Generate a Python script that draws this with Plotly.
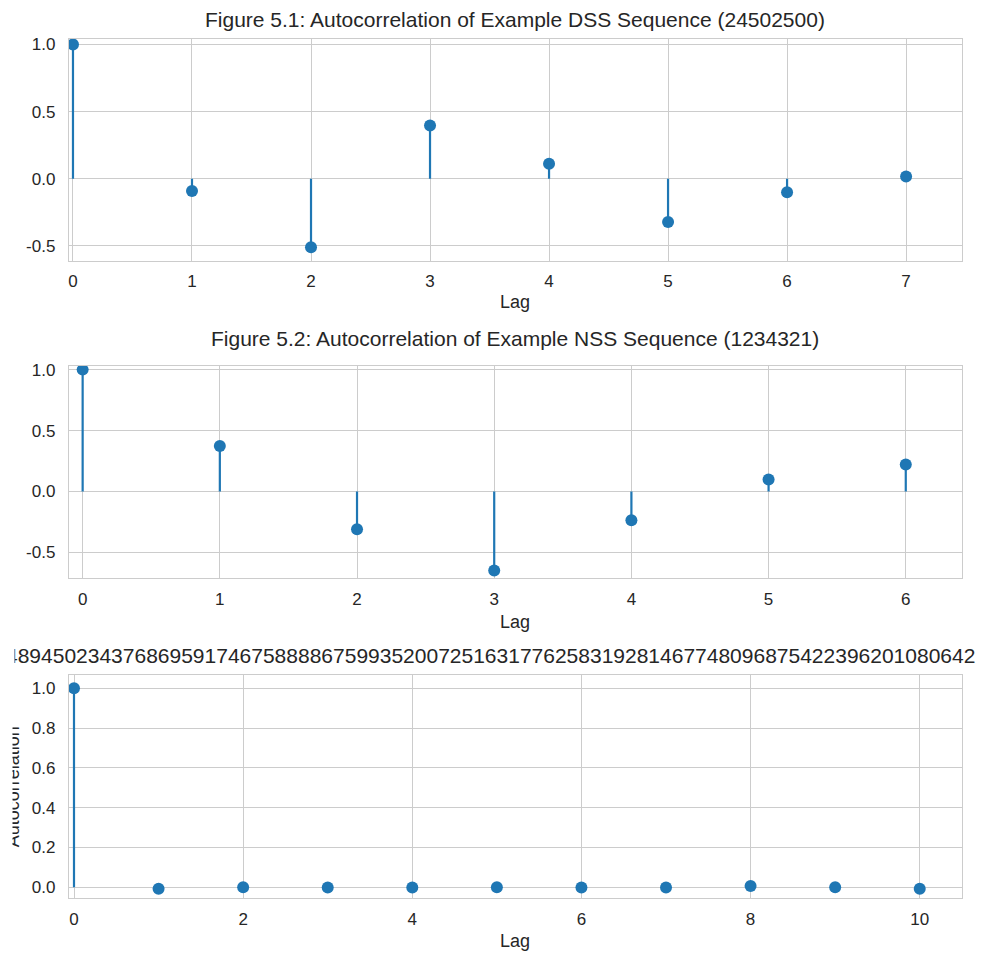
import plotly.graph_objects as go

W, H = 981, 953

# ---- data ----
lags1 = [0, 1, 2, 3, 4, 5, 6, 7]
acf1 = [1.0, -0.091, -0.511, 0.397, 0.112, -0.323, -0.101, 0.017]
title1 = "Figure 5.1: Autocorrelation of Example DSS Sequence (24502500)"

lags2 = [0, 1, 2, 3, 4, 5, 6]
acf2 = [1.0, 0.374, -0.310, -0.648, -0.236, 0.099, 0.222]
title2 = "Figure 5.2: Autocorrelation of Example NSS Sequence (1234321)"

lags3 = [0, 1, 2, 3, 4, 5, 6, 7, 8, 9, 10]
acf3 = [1.0, -0.008, 0.0, -0.002, -0.002, 0.0, -0.002, -0.002, 0.006, 0.0, -0.008]
title3 = "48945023437686959174675888867599352007251631776258319281467748096875422396201080642"

y_ticks1 = [-0.5, 0.0, 0.5, 1.0]
y_ticks2 = [-0.5, 0.0, 0.5, 1.0]
y_ticks3 = [0.0, 0.2, 0.4, 0.6, 0.8, 1.0]
x_ticks3 = [0, 2, 4, 6, 8, 10]

BLUE = "#1f77b4"
GRID = "#cccccc"
TXT = "#262626"
FONT = "Liberation Sans, Arial, sans-serif"
TICK_SIZE = 17
LABEL_SIZE = 18
TITLE_SIZE = 21

L, R = 68, 962

# panel pixel boxes (top, bottom), title centre (tx, ty), x-label centre
panels = [
    dict(lags=lags1, acf=acf1, title=title1, yt=y_ticks1, xt=lags1,
         yr=[-0.611, 1.042], xr=[-0.034, 7.47], top=38, bot=260,
         tx=(L + R) / 2, ty=19, ly=301),
    dict(lags=lags2, acf=acf2, title=title2, yt=y_ticks2, xt=lags2,
         yr=[-0.713, 1.033], xr=[-0.10, 6.41], top=365, bot=578,
         tx=(L + R) / 2, ty=338, ly=622),
    dict(lags=lags3, acf=acf3, title=title3, yt=y_ticks3, xt=x_ticks3,
         yr=[-0.055, 1.065], xr=[-0.06, 10.5], top=675, bot=898,
         tx=489.5, ty=655, ly=941),
]


def px(xp):
    return xp / W


def py(yp):
    # small vertical correction measured from earlier renders
    yp = yp - 4.0 * (941 - yp) / 922
    return 1 - yp / H


fig = go.Figure()
layout = dict(
    width=W, height=H,
    margin=dict(l=0, r=0, t=0, b=0),
    paper_bgcolor="white", plot_bgcolor="white",
    showlegend=False,
    font=dict(family=FONT, color=TXT, size=TICK_SIZE),
    annotations=[],
)

for i, p in enumerate(panels, start=1):
    xa = "x" if i == 1 else f"x{i}"
    ya = "y" if i == 1 else f"y{i}"
    # stems
    sx, sy = [], []
    for lag, v in zip(p["lags"], p["acf"]):
        sx += [lag, lag, None]
        sy += [0, v, None]
    fig.add_trace(go.Scatter(x=sx, y=sy, mode="lines",
                             line=dict(color=BLUE, width=2.2),
                             xaxis=xa, yaxis=ya, hoverinfo="skip"))
    fig.add_trace(go.Scatter(x=p["lags"], y=p["acf"], mode="markers",
                             marker=dict(color=BLUE, size=12),
                             xaxis=xa, yaxis=ya))
    xkey = "xaxis" if i == 1 else f"xaxis{i}"
    ykey = "yaxis" if i == 1 else f"yaxis{i}"
    layout[xkey] = dict(
        domain=[px(L), px(R)], anchor=ya, range=p["xr"],
        tickvals=p["xt"], ticktext=[str(t) for t in p["xt"]],
        showgrid=True, gridcolor=GRID, gridwidth=1, zeroline=False,
        showline=True, linecolor=GRID, linewidth=1.25, mirror=True,
        ticks="", ticklabelstandoff=5,
        tickfont=dict(size=TICK_SIZE, color=TXT),
    )
    layout[ykey] = dict(
        domain=[py(p["bot"]), py(p["top"])], anchor=xa, range=p["yr"],
        tickvals=p["yt"], ticktext=[f"{t:.1f}" for t in p["yt"]],
        showgrid=True, gridcolor=GRID, gridwidth=1, zeroline=False,
        showline=True, linecolor=GRID, linewidth=1.25, mirror=True,
        ticks="", ticklabelstandoff=9,
        tickfont=dict(size=TICK_SIZE, color=TXT),
    )
    # title
    layout["annotations"].append(dict(
        text=p["title"], xref="paper", yref="paper",
        x=px(p["tx"]), y=py(p["ty"]),
        showarrow=False, xanchor="center", yanchor="middle",
        font=dict(size=TITLE_SIZE, color=TXT, family=FONT),
    ))
    # x label
    layout["annotations"].append(dict(
        text="Lag", xref="paper", yref="paper",
        x=px((L + R) / 2), y=py(p["ly"]),
        showarrow=False, xanchor="center", yanchor="middle",
        font=dict(size=LABEL_SIZE, color=TXT, family=FONT),
    ))

# y label on third panel
layout["annotations"].append(dict(
    text="Autocorrelation", xref="paper", yref="paper",
    x=px(12), y=py(786), textangle=-90,
    showarrow=False, xanchor="center", yanchor="middle",
    font=dict(size=LABEL_SIZE, color=TXT, family=FONT),
))

# the original image is cut at its left edge, hiding part of these texts
for (y0, y1, w) in [(640, 672, 12), (705, 870, 10)]:
    layout["annotations"].append(dict(
        text=" ", xref="paper", yref="paper",
        x=0, y=py((y0 + y1) / 2), xanchor="left", yanchor="middle",
        width=w, height=y1 - y0, bgcolor="white", borderpad=0,
        showarrow=False,
    ))

fig.update_layout(**layout)
fig.write_html("out.html", config={"displayModeBar": False},
               post_script="document.body.style.margin='0px';")
